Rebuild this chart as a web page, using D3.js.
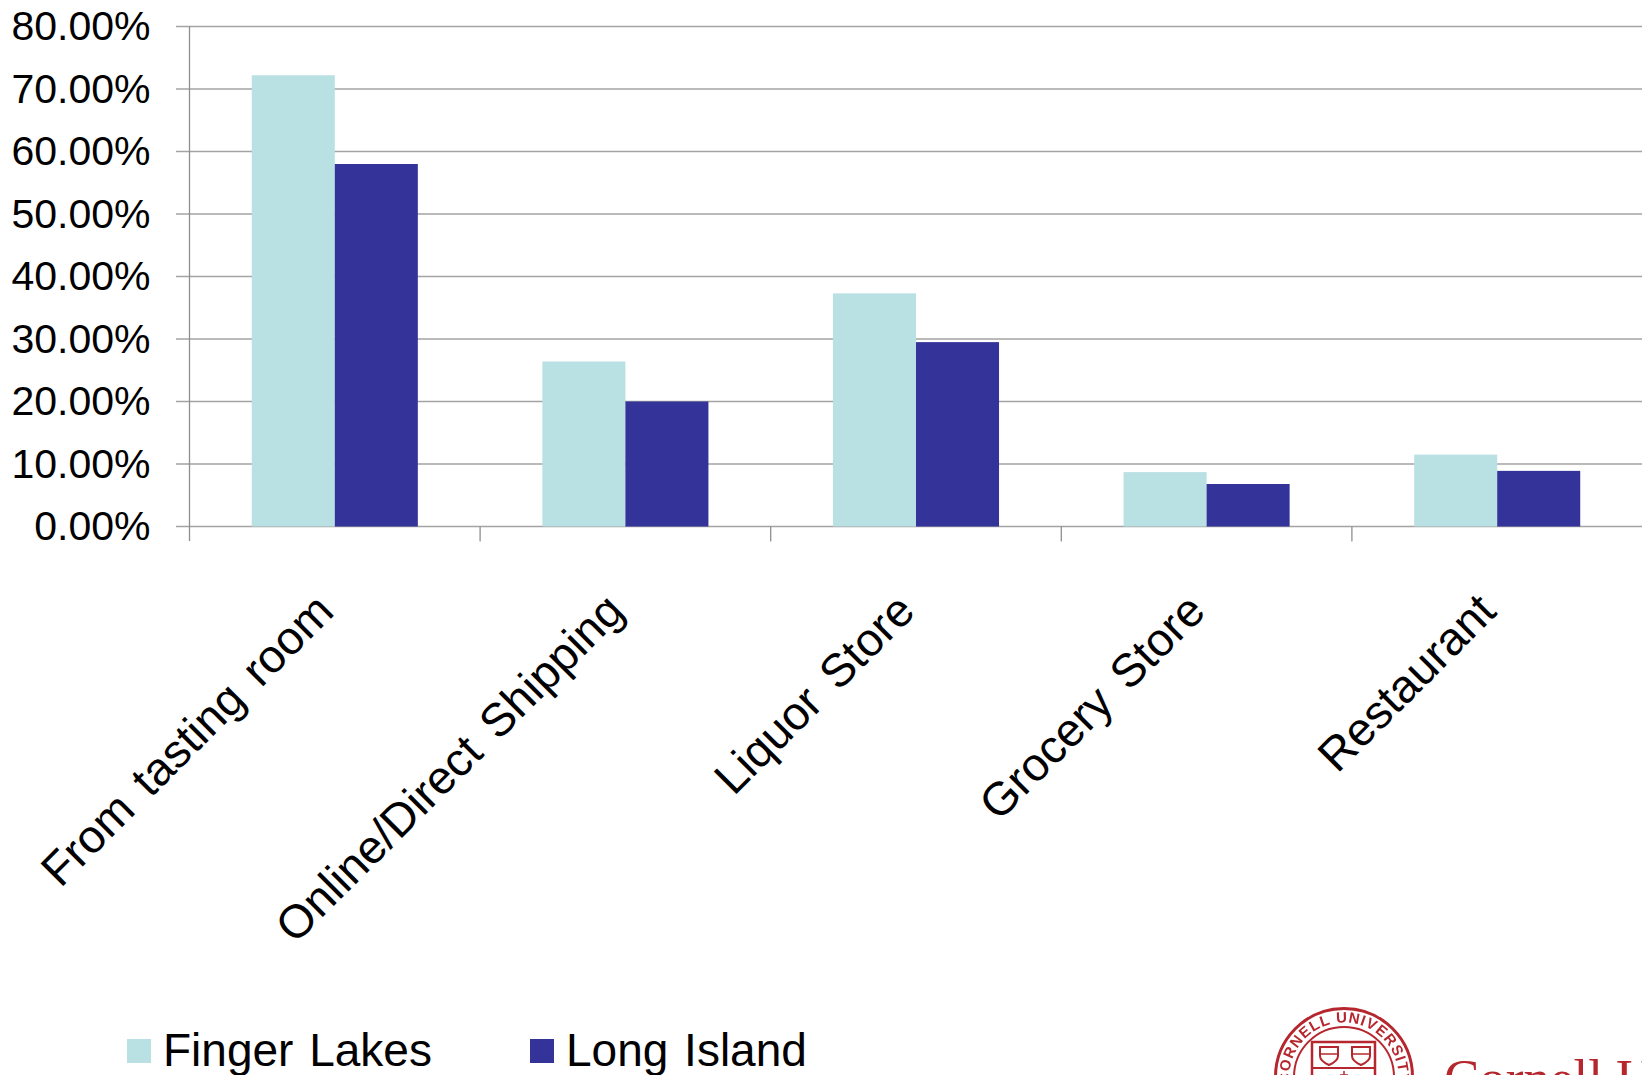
<!DOCTYPE html>
<html>
<head>
<meta charset="utf-8">
<script src="https://cdn.jsdelivr.net/npm/d3@7"></script>
<style>
html,body{margin:0;padding:0;background:#fff;overflow:hidden}
text{font-family:"Liberation Sans",Arial,sans-serif;fill:#000}
</style>
</head>
<body>
<svg id="chart" width="1642" height="1075"></svg>
<script>
const categories = ["From tasting room","Online/Direct Shipping","Liquor Store","Grocery Store","Restaurant"];
const fingerLakes = [0.722,0.264,0.373,0.087,0.115];
const longIsland = [0.58,0.20,0.295,0.068,0.089];
const yTicks = [0,0.1,0.2,0.3,0.4,0.5,0.6,0.7,0.8];
const seriesNames = ["Finger Lakes","Long Island"];
const seriesColors = ["#b9e0e3","#333399"];
const sealText = "CORNELL UNIVERSITY";
const wordmark = "Cornell U";

const svg = d3.select("#chart");
const x = d3.scaleBand().domain(categories).range([189.5,1642.5]);
const y = d3.scaleLinear().domain([0,0.8]).range([526.5,26.5]);
const inner = d3.scaleBand().domain(seriesNames).range([0,x.bandwidth()]).paddingInner(0).paddingOuter(0.75);
const axisGrey = "#8f8f8f";

// horizontal gridlines
svg.append("g").selectAll("line").data(yTicks).join("line")
  .attr("x1",176).attr("x2",1642).attr("y1",d=>y(d)).attr("y2",d=>y(d))
  .attr("stroke","#a3a3a3").attr("stroke-width",1.3);

// bars
[fingerLakes,longIsland].forEach((vals,s)=>{
  svg.append("g").selectAll("rect").data(vals).join("rect")
    .attr("x",(d,i)=>x(categories[i])+inner(seriesNames[s]))
    .attr("width",inner.bandwidth())
    .attr("y",d=>y(d)).attr("height",d=>y(0)-y(d))
    .attr("fill",seriesColors[s]);
});

// value axis
const yAxis = d3.axisLeft(y).tickValues(yTicks).tickFormat(d3.format(".2%")).tickSize(0).tickPadding(39);
const yg = svg.append("g").attr("transform","translate(189.5,0)").call(yAxis);
yg.select(".domain").attr("stroke",axisGrey).attr("stroke-width",1.3).attr("d","M0,26.5V541");
yg.selectAll("text").style("font-size","41px").attr("dy","0.32em");

// category axis with slanted labels
const xg = svg.append("g").attr("transform","translate(0,526.5)");
xg.selectAll("line.t").data(categories.slice(1)).join("line").attr("class","t")
  .attr("x1",d=>x(d)).attr("x2",d=>x(d)).attr("y1",0).attr("y2",15).attr("stroke",axisGrey).attr("stroke-width",1.3);
xg.selectAll("text").data(categories).join("text")
  .attr("transform",d=>`translate(${x(d)+x.bandwidth()/2+1},87) rotate(-45)`)
  .attr("text-anchor","end").style("font-size","46.5px").style("word-spacing","6px").text(d=>d);

// legend
const legendX = [127,530];
seriesNames.forEach((n,i)=>{
  svg.append("rect").attr("x",legendX[i]).attr("y",1039).attr("width",24).attr("height",24).attr("fill",seriesColors[i]);
  svg.append("text").attr("x",legendX[i]+36).attr("y",1066).style("font-size","46px").style("word-spacing","3px").text(n);
});

// university seal and wordmark, running off the lower edge
const red = "#b5272d";
const sealRadius = 54.5;
const arcEnd = 0.4;
const defs = svg.append("defs");
defs.append("filter").attr("id","soften").append("feGaussianBlur").attr("stdDeviation",0.6);
defs.append("path").attr("id","sealArc").attr("d",
  `M${-sealRadius*Math.cos(arcEnd)},${sealRadius*Math.sin(arcEnd)}` +
  `A${sealRadius},${sealRadius} 0 1 1 ${sealRadius*Math.cos(arcEnd)},${sealRadius*Math.sin(arcEnd)}`);
const seal = svg.append("g").attr("transform","translate(1344,1077)").attr("fill","none").attr("stroke",red).attr("filter","url(#soften)");
seal.append("circle").attr("r",68.5).attr("stroke-width",3);
seal.append("circle").attr("r",50).attr("stroke-width",2);
seal.append("text").attr("stroke","none").attr("text-anchor","middle").style("fill",red).style("font-size","15px").style("font-weight","bold").style("letter-spacing","1px")
  .append("textPath").attr("href","#sealArc").attr("startOffset","50%").text(sealText);
seal.append("rect").attr("x",-32).attr("y",-35).attr("width",63).attr("height",60).attr("stroke-width",2.5);
seal.append("line").attr("x1",-32).attr("x2",31).attr("y1",-9).attr("y2",-9).attr("stroke-width",2);
seal.append("path").attr("d","M0,-6V2M-4,-2H4").attr("stroke-width",1.5);
[-15,17].forEach(cx=>{
  seal.append("path").attr("d",`M${cx-9},-30H${cx+9}V-21Q${cx+9},-16 ${cx},-12Q${cx-9},-16 ${cx-9},-21Z`).attr("stroke-width",2);
  seal.append("path").attr("d",`M${cx-9},-23H${cx+9}`).attr("stroke-width",1.5);
});
svg.append("text").attr("x",1444).attr("y",1096).style("font-family","'Liberation Serif',serif").style("font-size","53px").style("fill",red).text(wordmark);
</script>
</body>
</html>
